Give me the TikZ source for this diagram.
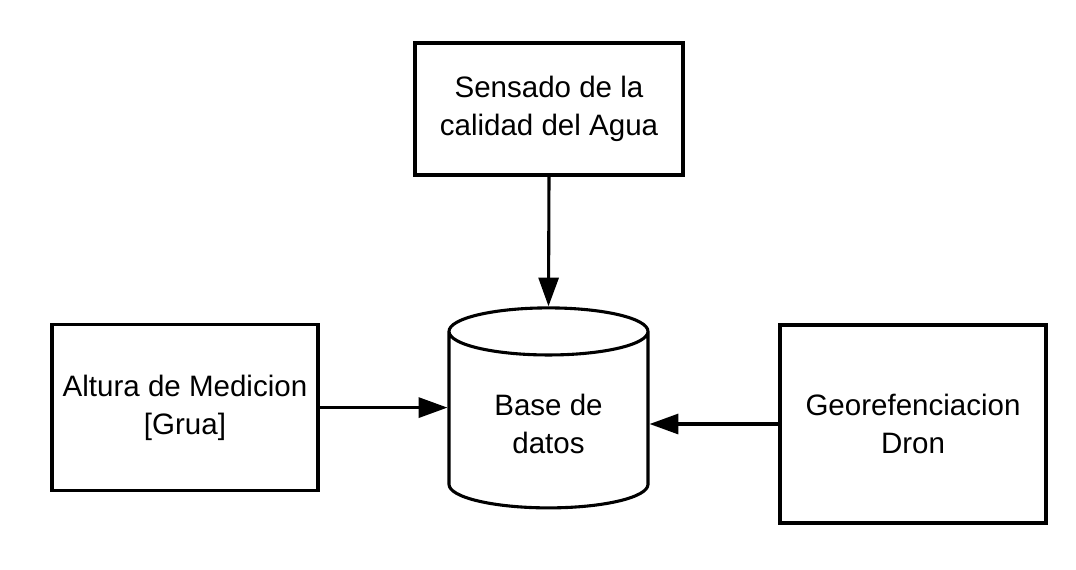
\documentclass[tikz,border=0pt]{standalone}
\usepackage{fontspec}
\setmainfont{Liberation Sans}
\usetikzlibrary{shapes.geometric,arrows.meta}
\begin{document}
\begin{tikzpicture}[>={Triangle[length=0.72cm,width=0.5cm]},
    caja/.style={draw,line width=2.2pt,align=center,font=\fontsize{21}{27}\selectfont},
    flecha/.style={->,line width=2.2pt}]
            \useasboundingbox (0,0) rectangle (26.9,-14.225);
            \node[caja,minimum width=6.7cm,minimum height=3.3cm] (agua) at (13.725,-2.725) {Sensado de la\\calidad del Agua};
            \node[caja,minimum width=6.65cm,minimum height=4.15cm] (grua) at (4.625,-10.19) {Altura de Medicion\\{[Grua]}};
            \node[caja,minimum width=6.65cm,minimum height=4.95cm] (dron) at (22.825,-10.6) {Georefenciacion\\Dron};
            \node[caja,cylinder,shape border rotate=90,aspect=0.4,minimum width=4.975cm,minimum height=5cm] (bd) at (13.7125,-10.6) {Base de\\datos};
            \draw[flecha] (agua.south) -- (bd.top);
            \draw[flecha] (grua.east) -- (grua.east -| bd.west);
            \draw[flecha] (dron.west) -- (dron.west -| bd.east);
        \end{tikzpicture}
\end{document}
